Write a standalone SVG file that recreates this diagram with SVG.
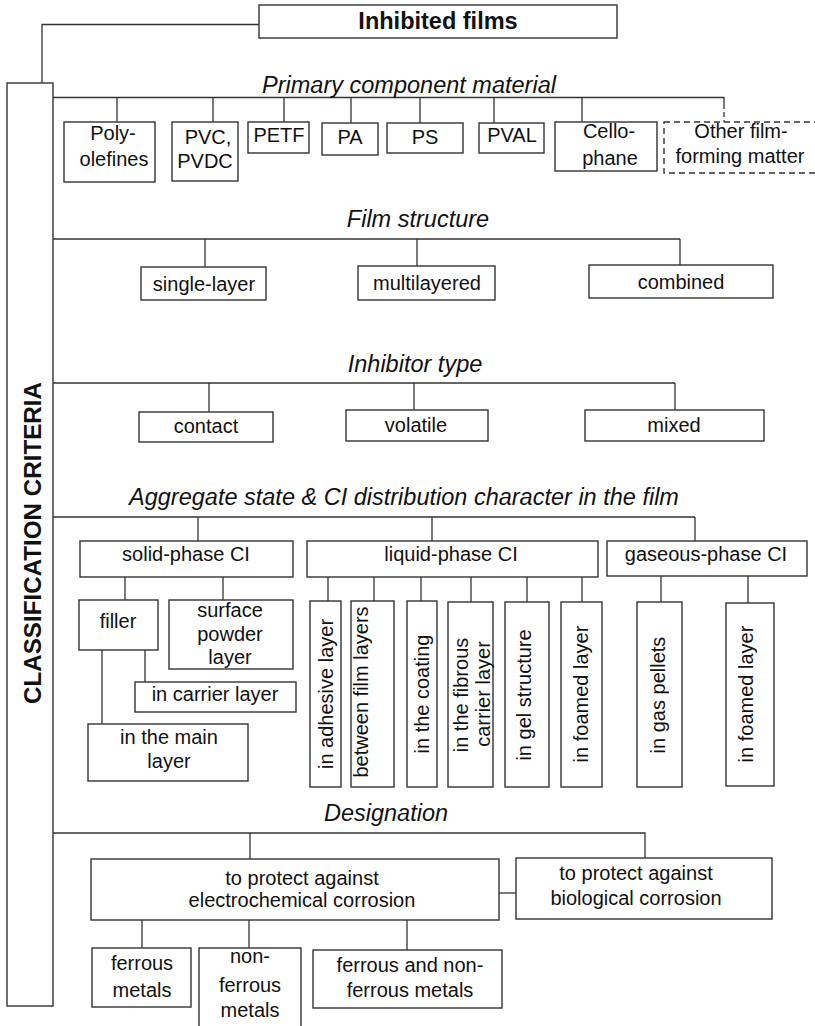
<svg xmlns="http://www.w3.org/2000/svg" width="815" height="1026" viewBox="0 0 815 1026">
  <style>
    .box { fill: #fff; stroke: #333; stroke-width: 1.4; }
    .dash { fill: #fff; stroke: #333; stroke-width: 1.4; stroke-dasharray: 6 4; }
    .wire { fill: none; stroke: #333; stroke-width: 1.3; }
    text { font-family: "Liberation Sans", Arial, sans-serif; fill: #111; }
    .t { font-size: 20px; text-anchor: middle; }
    .h { font-size: 23.5px; font-style: italic; text-anchor: middle; }
    .b { font-size: 23.5px; font-weight: bold; text-anchor: middle; }
    .v { font-size: 24.2px; font-weight: bold; text-anchor: middle; }
  </style>
  <rect width="815" height="1026" fill="#fff"/>

  <!-- connectors -->
  <g id="connectors" class="wire">
    <polyline points="259,24.5 42,24.5 42,83"/>
    <!-- primary component material -->
    <polyline points="53,97.5 724,97.5 724,104"/>
    <line x1="724" y1="104" x2="724" y2="122" stroke-dasharray="5 3"/>
    <line x1="117" y1="97.5" x2="117" y2="122"/>
    <line x1="213" y1="97.5" x2="213" y2="122"/>
    <line x1="284" y1="97.5" x2="284" y2="122"/>
    <line x1="351" y1="97.5" x2="351" y2="123"/>
    <line x1="420" y1="97.5" x2="420" y2="123"/>
    <line x1="494" y1="97.5" x2="494" y2="123"/>
    <line x1="582" y1="97.5" x2="582" y2="122"/>
    <!-- film structure -->
    <line x1="53" y1="239" x2="680" y2="239"/>
    <line x1="205" y1="239" x2="205" y2="267"/>
    <line x1="417" y1="239" x2="417" y2="266"/>
    <line x1="680" y1="239" x2="680" y2="265"/>
    <!-- inhibitor type -->
    <line x1="53" y1="383" x2="675" y2="383"/>
    <line x1="209" y1="383" x2="209" y2="412"/>
    <line x1="414" y1="383" x2="414" y2="410"/>
    <line x1="675" y1="383" x2="675" y2="410"/>
    <!-- aggregate state -->
    <line x1="53" y1="517" x2="695" y2="517"/>
    <line x1="198" y1="517" x2="198" y2="541"/>
    <line x1="432" y1="517" x2="432" y2="541"/>
    <line x1="695" y1="517" x2="695" y2="541"/>
    <line x1="125" y1="577" x2="125" y2="600"/>
    <line x1="223" y1="577" x2="223" y2="600"/>
    <line x1="145" y1="650" x2="145" y2="682"/>
    <line x1="102" y1="650" x2="102" y2="724"/>
    <line x1="328" y1="577" x2="328" y2="601"/>
    <line x1="374" y1="577" x2="374" y2="601"/>
    <line x1="421" y1="577" x2="421" y2="601"/>
    <line x1="471" y1="577" x2="471" y2="602"/>
    <line x1="527" y1="577" x2="527" y2="602"/>
    <line x1="582" y1="577" x2="582" y2="602"/>
    <line x1="661" y1="576" x2="661" y2="602"/>
    <line x1="748" y1="576" x2="748" y2="603"/>
    <!-- designation -->
    <polyline points="53,833 645,833 645,858"/>
    <line x1="250" y1="833" x2="250" y2="859"/>
    <line x1="499" y1="893" x2="516" y2="893"/>
    <line x1="142" y1="920" x2="142" y2="948"/>
    <line x1="249" y1="920" x2="249" y2="948"/>
    <line x1="407" y1="920" x2="407" y2="950"/>
  </g>

  <g id="root">
    <rect class="box" x="259" y="5" width="358" height="33"/>
    <text class="b" x="438" y="29">Inhibited films</text>
  </g>

  <g id="criteria">
    <rect class="box" x="7" y="83" width="46" height="923"/>
    <text class="v" transform="translate(41,543) rotate(-90)">CLASSIFICATION CRITERIA</text>
  </g>

  <!-- section headings -->
  <g id="headings">
    <text class="h" x="409" y="93">Primary component material</text>
    <text class="h" x="418" y="227">Film structure</text>
    <text class="h" x="415" y="372">Inhibitor type</text>
    <text class="h" x="404" y="505">Aggregate state &amp; CI distribution character in the film</text>
    <text class="h" x="386" y="821">Designation</text>
  </g>

  <!-- primary component material -->
  <g id="polyolefines">
    <rect class="box" x="64" y="122" width="91" height="60"/>
    <text class="t" x="113" y="140">Poly-</text>
    <text class="t" x="114" y="166">olefines</text>
  </g>
  <g id="pvc">
    <rect class="box" x="172" y="122" width="66" height="59"/>
    <text class="t" x="208" y="144">PVC,</text>
    <text class="t" x="205" y="168">PVDC</text>
  </g>
  <g id="petf">
    <rect class="box" x="248" y="122" width="61" height="31"/>
    <text class="t" x="279" y="142">PETF</text>
  </g>
  <g id="pa">
    <rect class="box" x="322" y="123" width="56" height="32"/>
    <text class="t" x="350" y="144">PA</text>
  </g>
  <g id="ps">
    <rect class="box" x="387" y="123" width="76" height="30"/>
    <text class="t" x="425" y="144">PS</text>
  </g>
  <g id="pval">
    <rect class="box" x="479" y="123" width="65" height="30"/>
    <text class="t" x="512" y="142">PVAL</text>
  </g>
  <g id="cellophane">
    <rect class="box" x="555" y="122" width="102" height="49"/>
    <text class="t" x="609" y="138">Cello-</text>
    <text class="t" x="610" y="165">phane</text>
  </g>
  <g id="other">
    <rect class="dash" x="664" y="122" width="160" height="51"/>
    <text class="t" x="741" y="138">Other film-</text>
    <text class="t" x="740" y="163">forming matter</text>
  </g>

  <!-- film structure -->
  <g id="single-layer">
    <rect class="box" x="141" y="267" width="125" height="33"/>
    <text class="t" x="204" y="291">single-layer</text>
  </g>
  <g id="multilayered">
    <rect class="box" x="358" y="266" width="137" height="34"/>
    <text class="t" x="427" y="290">multilayered</text>
  </g>
  <g id="combined">
    <rect class="box" x="589" y="265" width="184" height="33"/>
    <text class="t" x="681" y="289">combined</text>
  </g>

  <!-- inhibitor type -->
  <g id="contact">
    <rect class="box" x="139" y="412" width="134" height="30"/>
    <text class="t" x="206" y="433">contact</text>
  </g>
  <g id="volatile">
    <rect class="box" x="346" y="410" width="142" height="31"/>
    <text class="t" x="416" y="432">volatile</text>
  </g>
  <g id="mixed">
    <rect class="box" x="585" y="410" width="179" height="31"/>
    <text class="t" x="674" y="432">mixed</text>
  </g>

  <!-- aggregate state and distribution -->
  <g id="solid-phase">
    <rect class="box" x="80" y="541" width="213" height="36"/>
    <text class="t" x="186" y="561">solid-phase CI</text>
  </g>
  <g id="liquid-phase">
    <rect class="box" x="307" y="541" width="291" height="36"/>
    <text class="t" x="451" y="561">liquid-phase CI</text>
  </g>
  <g id="gaseous-phase">
    <rect class="box" x="607" y="541" width="200" height="35"/>
    <text class="t" x="706" y="561">gaseous-phase CI</text>
  </g>
  <g id="filler">
    <rect class="box" x="79" y="600" width="79" height="50"/>
    <text class="t" x="118" y="628">filler</text>
  </g>
  <g id="surface-powder">
    <rect class="box" x="169" y="600" width="124" height="69"/>
    <text class="t" x="230" y="617">surface</text>
    <text class="t" x="230" y="641">powder</text>
    <text class="t" x="230" y="664">layer</text>
  </g>
  <g id="carrier-layer">
    <rect class="box" x="135" y="682" width="161" height="30"/>
    <text class="t" x="215" y="701">in carrier layer</text>
  </g>
  <g id="main-layer">
    <rect class="box" x="88" y="724" width="160" height="57"/>
    <text class="t" x="169" y="744">in the main</text>
    <text class="t" x="169" y="768">layer</text>
  </g>
  <g id="adhesive">
    <rect class="box" x="310" y="601" width="31" height="186"/>
    <text class="t" transform="translate(333,694) rotate(-90)">in adhesive layer</text>
  </g>
  <g id="between-layers">
    <rect class="box" x="351" y="601" width="43" height="186"/>
    <text class="t" transform="translate(368,692) rotate(-90)">between film layers</text>
  </g>
  <g id="coating">
    <rect class="box" x="407" y="601" width="30" height="186"/>
    <text class="t" transform="translate(429,694) rotate(-90)">in the coating</text>
  </g>
  <g id="fibrous">
    <rect class="box" x="448" y="602" width="45" height="185"/>
    <text class="t" transform="translate(468,695) rotate(-90)">in the fibrous</text>
    <text class="t" transform="translate(490,694) rotate(-90)">carrier layer</text>
  </g>
  <g id="gel">
    <rect class="box" x="505" y="602" width="44" height="185"/>
    <text class="t" transform="translate(531,695) rotate(-90)">in gel structure</text>
  </g>
  <g id="foamed-liquid">
    <rect class="box" x="561" y="602" width="41" height="185"/>
    <text class="t" transform="translate(588,694) rotate(-90)">in foamed layer</text>
  </g>
  <g id="gas-pellets">
    <rect class="box" x="637" y="602" width="45" height="185"/>
    <text class="t" transform="translate(665,695) rotate(-90)">in gas pellets</text>
  </g>
  <g id="foamed-gas">
    <rect class="box" x="726" y="603" width="48" height="183"/>
    <text class="t" transform="translate(753,694) rotate(-90)">in foamed layer</text>
  </g>

  <!-- designation -->
  <g id="electrochemical">
    <rect class="box" x="91" y="859" width="408" height="61"/>
    <text class="t" x="302" y="885">to protect against</text>
    <text class="t" x="302" y="907">electrochemical corrosion</text>
  </g>
  <g id="biological">
    <rect class="box" x="516" y="858" width="256" height="61"/>
    <text class="t" x="636" y="880">to protect against</text>
    <text class="t" x="636" y="905">biological corrosion</text>
  </g>
  <g id="ferrous">
    <rect class="box" x="92" y="948" width="99" height="59"/>
    <text class="t" x="142" y="970">ferrous</text>
    <text class="t" x="142" y="997">metals</text>
  </g>
  <g id="non-ferrous">
    <rect class="box" x="199" y="948" width="102" height="90"/>
    <text class="t" x="250" y="963">non-</text>
    <text class="t" x="250" y="992">ferrous</text>
    <text class="t" x="250" y="1017">metals</text>
  </g>
  <g id="both-metals">
    <rect class="box" x="313" y="950" width="189" height="58"/>
    <text class="t" x="410" y="972">ferrous and non-</text>
    <text class="t" x="410" y="997">ferrous metals</text>
  </g>
</svg>
